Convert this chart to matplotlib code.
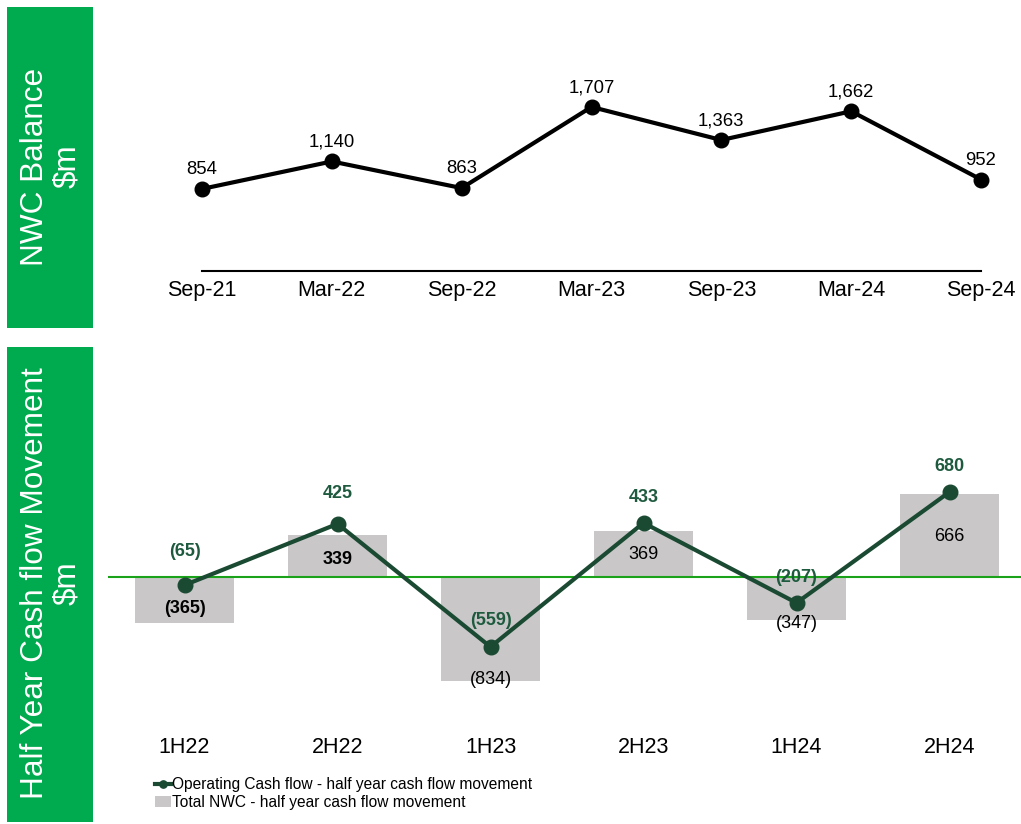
import matplotlib
matplotlib.use("Agg")
import matplotlib.pyplot as plt
from matplotlib.patches import Rectangle

plt.rcParams['font.family'] = ['Liberation Sans', 'DejaVu Sans']

# ---- data ----
balance_dates = ["Sep-21", "Mar-22", "Sep-22", "Mar-23", "Sep-23", "Mar-24", "Sep-24"]
balance_values = [854, 1140, 863, 1707, 1363, 1662, 952]

periods = ["1H22", "2H22", "1H23", "2H23", "1H24", "2H24"]
nwc_movement = [-365, 339, -834, 369, -347, 666]
op_cash_flow = [-65, 425, -559, 433, -207, 680]

bar_label_bold = [True, True, False, False, False, False]
bar_label_offsets = [10, -18, 1.5, -17, -2, -31]      # points, from bar end
line_label_offsets = [24, 22, 19, 18, 18, 18]          # points above point

GREEN = "#00AA4E"
DARK = "#1B4A33"
GREY = "#C9C7C8"

W, H = 1021, 824
fig = plt.figure(figsize=(W / 100, H / 100), dpi=100)

def fx(px):
    return px / W

def fy(py):
    return 1 - py / H

# ---- green side panels ----
for (y_top, y_bot, txt) in [(7, 328, "NWC Balance\n$m"),
                            (347, 822, "Half Year Cash flow Movement\n$m")]:
    fig.patches.append(Rectangle((fx(7), fy(y_bot)), fx(86), (y_bot - y_top) / H,
                                 transform=fig.transFigure, facecolor=GREEN,
                                 edgecolor="none", zorder=0))
    fig.text(fx(51), fy((y_top + y_bot) / 2 - 1), txt, rotation=90, ha="center",
             va="center", color="white", fontsize=22.7, linespacing=1.1,
             multialignment="center")

# ---- top chart: NWC balance ----
ax1 = fig.add_axes([fx(202), fy(271), fx(981 - 202), (271 - 20) / H])
x1 = list(range(len(balance_dates)))
ax1.plot(x1, balance_values, color="black", lw=3, marker="o", markersize=10.5,
         clip_on=False, zorder=3)
ax1.set_xlim(0, len(balance_dates) - 1)
ax1.set_ylim(0, (271 - 20) / 0.0961)
for s in ["top", "left", "right"]:
    ax1.spines[s].set_visible(False)
ax1.spines["bottom"].set_linewidth(1.5)
ax1.set_yticks([])
ax1.set_xticks(x1)
ax1.set_xticklabels(balance_dates, fontsize=15.5)
ax1.tick_params(axis="x", length=0, pad=6.5)
for xi, v in zip(x1, balance_values):
    ax1.annotate(f"{v:,}", (xi, v), xytext=(0, 14), textcoords="offset points",
                 ha="center", va="center", fontsize=13.3, color="black")

# ---- bottom chart: half-year movement ----
ax2 = fig.add_axes([fx(108), fy(720), fx(W - 108), (720 - 420) / H])
x2 = list(range(len(periods)))
ax2.bar(x2, nwc_movement, width=0.65, color=GREY, zorder=1,
        label="Total NWC - half year cash flow movement")
ax2.axhline(0, color="#1AA31A", lw=1.5, zorder=2)
ax2.plot(x2, op_cash_flow, color=DARK, lw=3, marker="o", markersize=10.5,
         zorder=3, label="Operating Cash flow - half year cash flow movement")
ax2.set_xlim(-0.5, -0.5 + (W - 108) / 153)
ax2.set_ylim(-(720 - 577) / 0.125, (577 - 420) / 0.125)
for s in ax2.spines.values():
    s.set_visible(False)
ax2.set_yticks([])
ax2.set_xticks(x2)
ax2.set_xticklabels(periods, fontsize=15.5)
ax2.tick_params(axis="x", length=0, pad=12)

def fmt(v):
    return f"({abs(v):,})" if v < 0 else f"{v:,}"

for xi, v, bold, off in zip(x2, nwc_movement, bar_label_bold, bar_label_offsets):
    ax2.annotate(fmt(v), (xi, v), xytext=(0, off), textcoords="offset points",
                 ha="center", va="center", fontsize=13, color="black",
                 fontweight="bold" if bold else "normal", zorder=4)
for xi, v, off in zip(x2, op_cash_flow, line_label_offsets):
    ax2.annotate(fmt(v), (xi, v), xytext=(0, off), textcoords="offset points",
                 ha="center", va="center", fontsize=13, color="#1E5A3E",
                 fontweight="bold", zorder=4)

handles, labels = ax2.get_legend_handles_labels()
order = sorted(range(len(labels)), key=lambda i: 0 if labels[i].startswith("Operating") else 1)
leg = fig.legend([handles[i] for i in order], [labels[i] for i in order],
                 loc="upper left", bbox_to_anchor=(fx(155), fy(777)), frameon=False,
                 fontsize=11.2, handlelength=1.0, handletextpad=0.1, labelspacing=0.2,
                 borderpad=0, borderaxespad=0, markerscale=0.5)

fig.savefig("out.png", dpi=100)
